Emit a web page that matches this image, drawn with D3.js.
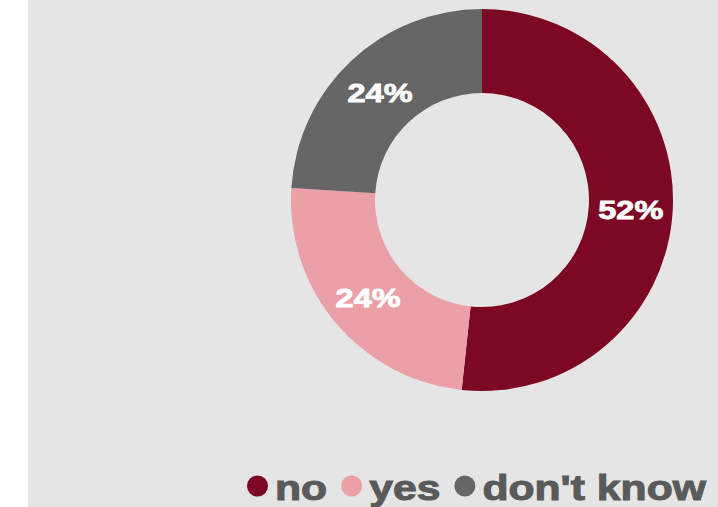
<!DOCTYPE html>
<html><head><meta charset="utf-8">
<script src="https://cdn.jsdelivr.net/npm/d3@7"></script>
<style>html,body{margin:0;padding:0;background:#fff;}svg{display:block;}</style>
</head><body>
<svg id="chart" width="718" height="507"></svg>
<script>
const categories = ["no", "yes", "don't know"];
const values = [51.7, 24.3, 24.0];
const labels = ["52%", "24%", "24%"];
const colors = ["#7d0823", "#eba0a8", "#666666"];

const svg = d3.select("#chart");
svg.append("rect").attr("x", 28).attr("y", 0).attr("width", 690).attr("height", 507).attr("fill", "#e5e5e5");

const cx = 482, cy = 200, rOuter = 191, rInner = 107;
const pie = d3.pie().sort(null).value(d => d.v);
const arc = d3.arc().innerRadius(rInner).outerRadius(rOuter);
const data = categories.map((c, i) => ({c, v: values[i], l: labels[i], col: colors[i]}));
const g = svg.append("g").attr("transform", `translate(${cx},${cy})`);
const arcs = pie(data);
g.selectAll("path").data(arcs).enter().append("path")
  .attr("d", arc).attr("fill", d => d.data.col);

g.selectAll("text.lbl").data(arcs).enter().append("text")
  .attr("class", "lbl")
  .attr("transform", d => { const [x, y] = arc.centroid(d); return `translate(${x},${y + 11}) scale(1.3,1)`; })
  .attr("text-anchor", "middle")
  .style("font-family", "'Liberation Sans', Arial, sans-serif")
  .style("font-weight", "bold").style("font-size", "25px")
  .attr("fill", "#ffffff").attr("stroke", "#ffffff").attr("stroke-width", 0.8)
  .text(d => d.data.l);

// legend
const leg = svg.append("g");
let x = 247;
const baseY = 500, circY = 486, cr = 10.5, sx = 1.22;
data.forEach((d, i) => {
  leg.append("circle").attr("cx", x + cr).attr("cy", circY).attr("r", cr).attr("fill", d.col);
  x += 2 * cr + 7;
  const t = leg.append("text")
    .attr("transform", `translate(${x},${baseY}) scale(${sx},1)`)
    .style("font-family", "'Liberation Sans', Arial, sans-serif")
    .style("font-weight", "bold").style("font-size", "35px")
    .attr("fill", "#5a5a5a").attr("stroke", "#5a5a5a").attr("stroke-width", 1)
    .text(d.c);
  const w = t.node().getComputedTextLength() * sx;
  x += w + 14;
});
</script>
</body></html>
